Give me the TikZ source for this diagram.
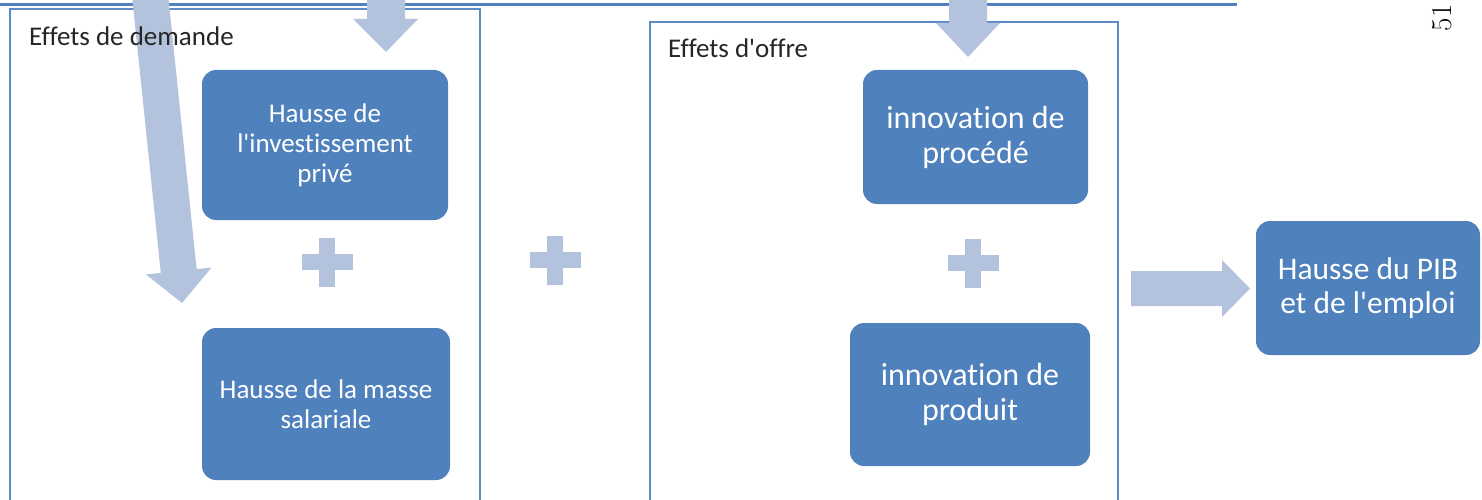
\documentclass[tikz,border=0pt]{standalone}
\usepackage{fontspec}
\newfontfamily\calibri[Ligatures=NoCommon]{Carlito}
\definecolor{boxblue}{HTML}{4F81BD}
\definecolor{arrowblue}{HTML}{B3C2DD}
\definecolor{frameblue}{HTML}{5B8AC4}
\definecolor{labelgrey}{HTML}{262626}
\tikzset{
  blockbox/.style={rounded corners=14pt, fill=boxblue, text=white, align=center, inner sep=0pt},
  frameline/.style={draw=frameblue, line width=1.3pt},
  grouplabel/.style={anchor=base west, text=labelgrey, inner sep=0pt, font=\calibri\fontsize{27}{30}\selectfont},
  shapearrow/.style={fill=arrowblue},
}
\begin{document}
\begin{tikzpicture}[x=1pt,y=-1pt]
\useasboundingbox (0,0) rectangle (1482,500);
\clip (0,0) rectangle (1482,500);
% top rule
\draw[draw=boxblue, line width=3pt] (0,5) -- (1237,5);
% frames
\draw[frameline] (10,510) -- (10,9) -- (480,9) -- (480,510);
\draw[frameline] (650,510) -- (650,22) -- (1118,22) -- (1118,510);
% long slanted arrow
\fill[shapearrow] (131.6,-8.1) -- (167.4,-11.9) -- (196.6,269.1) -- (211.5,267.6) -- (182,303) -- (145.9,274.4) -- (160.8,272.9) -- cycle;
% down arrows
\fill[shapearrow] (367,-5) -- (405,-5) -- (405,19) -- (418,19) -- (386,52) -- (353,19) -- (367,19) -- cycle;
\fill[shapearrow] (949,-5) -- (987,-5) -- (987,23) -- (1000,23) -- (968,57) -- (936,23) -- (949,23) -- cycle;
% right arrow
\fill[shapearrow] (1131,271) -- (1222,271) -- (1222,260) -- (1250,288.5) -- (1222,317) -- (1222,306) -- (1131,306) -- cycle;
% plus signs
\foreach \cx/\cy in {327/262, 555/260, 973/263}{
  \fill[shapearrow] (\cx-25.5,\cy-8) rectangle (\cx+25.5,\cy+8);
  \fill[shapearrow] (\cx-8,\cy-24.5) rectangle (\cx+8,\cy+24.5);
}
% labels
\node[grouplabel] (ldem) at (29,46) {Effets de demande};
\node[grouplabel] (loff) at (668,58) {Effets d'offre};
% boxes
\node[blockbox, minimum width=246pt, minimum height=150pt, font=\calibri\fontsize{27}{30}\selectfont] (inv) at (325,145) {Hausse de\\l'investissement\\privé};
\node[blockbox, minimum width=248pt, minimum height=152pt, font=\calibri\fontsize{27}{30}\selectfont] (sal) at (326,404) {Hausse de la masse\\salariale};
\node[blockbox, minimum width=225pt, minimum height=134pt, font=\calibri\fontsize{32}{35}\selectfont] (proc) at (975.5,137) {innovation de\\procédé};
\node[blockbox, minimum width=240pt, minimum height=143pt, font=\calibri\fontsize{32}{35}\selectfont] (prod) at (970,394.5) {innovation de\\produit};
\node[blockbox, minimum width=224pt, minimum height=134pt, font=\calibri\fontsize{31.5}{34}\selectfont] (pib) at (1368,288) {Hausse du PIB\\et de l'emploi};
% page number
\node[rotate=90, inner sep=0pt, font=\fontsize{29}{29}\selectfont] (pnum) at (1442,18) {51};
\end{tikzpicture}
\end{document}
